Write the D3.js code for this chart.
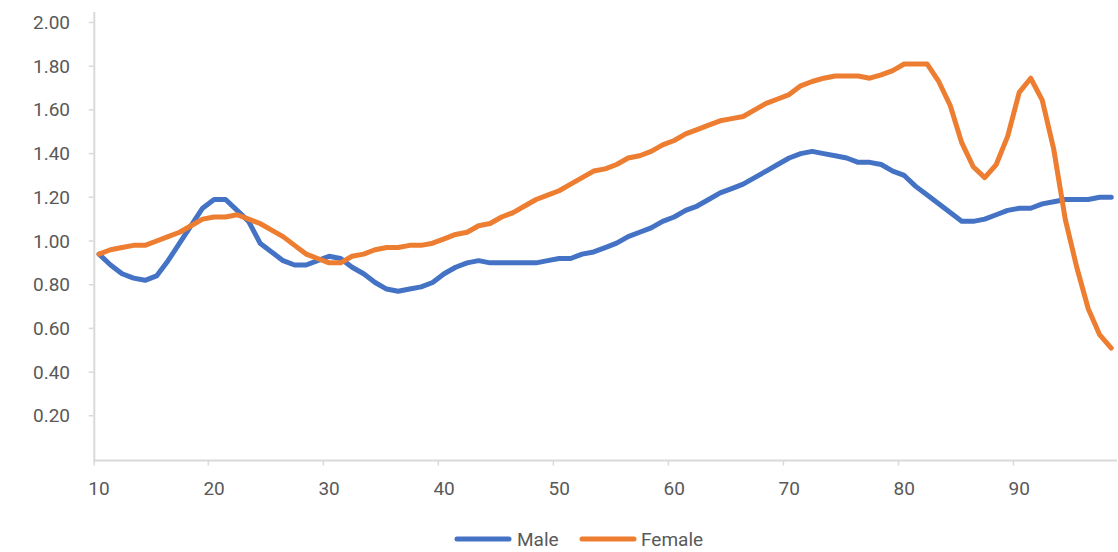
<!DOCTYPE html>
<html>
<head>
<meta charset="utf-8">
<script src="https://cdn.jsdelivr.net/npm/d3@7"></script>
<style>
  html, body { margin: 0; padding: 0; background: #ffffff; }
  svg { display: block; }
  text { font-family: Roboto, "Open Sans", sans-serif; fill: #595959; }
</style>
</head>
<body>
<svg id="chart" width="1118" height="552"></svg>
<script>
// Ages on the category axis
const ages = [10,11,12,13,14,15,16,17,18,19,20,21,22,23,24,25,26,27,28,29,
  30,31,32,33,34,35,36,37,38,39,40,41,42,43,44,45,46,47,48,49,
  50,51,52,53,54,55,56,57,58,59,60,61,62,63,64,65,66,67,68,69,
  70,71,72,73,74,75,76,77,78,79,80,81,82,83,84,85,86,87,88,89,
  90,91,92,93,94,95,96,97,98];

const male = [0.94,0.89,0.85,0.83,0.82,0.84,0.91,0.99,1.07,1.15,
  1.19,1.19,1.14,1.09,0.99,0.95,0.91,0.89,0.89,0.91,
  0.93,0.92,0.88,0.85,0.81,0.78,0.77,0.78,0.79,0.81,
  0.85,0.88,0.90,0.91,0.90,0.90,0.90,0.90,0.90,0.91,
  0.92,0.92,0.94,0.95,0.97,0.99,1.02,1.04,1.06,1.09,
  1.11,1.14,1.16,1.19,1.22,1.24,1.26,1.29,1.32,1.35,
  1.38,1.40,1.41,1.40,1.39,1.38,1.36,1.36,1.35,1.32,
  1.30,1.25,1.21,1.17,1.13,1.09,1.09,1.10,1.12,1.14,
  1.15,1.15,1.17,1.18,1.19,1.19,1.19,1.20,1.20];

const female = [0.94,0.96,0.97,0.98,0.98,1.00,1.02,1.04,1.07,1.10,
  1.11,1.11,1.12,1.10,1.08,1.05,1.02,0.98,0.94,0.92,
  0.90,0.90,0.93,0.94,0.96,0.97,0.97,0.98,0.98,0.99,
  1.01,1.03,1.04,1.07,1.08,1.11,1.13,1.16,1.19,1.21,
  1.23,1.26,1.29,1.32,1.33,1.35,1.38,1.39,1.41,1.44,
  1.46,1.49,1.51,1.53,1.55,1.56,1.57,1.60,1.63,1.65,
  1.67,1.71,1.73,1.745,1.755,1.755,1.755,1.745,1.76,1.78,
  1.81,1.81,1.81,1.73,1.62,1.45,1.34,1.29,1.35,1.48,
  1.68,1.745,1.645,1.42,1.10,0.88,0.69,0.57,0.51];

const xTickAges = [10,20,30,40,50,60,70,80,90];
const yTicks = [0.2,0.4,0.6,0.8,1.0,1.2,1.4,1.6,1.8,2.0];

const seriesNames = ["Male", "Female"];
const seriesColors = ["#4472C4", "#ED7D31"];

const svg = d3.select("#chart");

const plot = { left: 93.3, right: 1117, top: 22.5, bottom: 459.5 };

const x = d3.scaleBand().domain(ages).range([plot.left, plot.right]).paddingInner(0).paddingOuter(0);
const y = d3.scaleLinear().domain([0, 2]).range([plot.bottom, plot.top]);
const cx = a => x(a) + x.bandwidth() / 2;

const axisColor = "#d9d9d9";

// Vertical axis line and ticks
svg.append("line")
  .attr("x1", plot.left + 1).attr("x2", plot.left + 1)
  .attr("y1", 12).attr("y2", plot.bottom + 1)
  .attr("stroke", axisColor).attr("stroke-width", 2);

svg.append("g").selectAll("line").data(yTicks).join("line")
  .attr("x1", plot.left - 4.5).attr("x2", plot.left)
  .attr("y1", d => y(d)).attr("y2", d => y(d))
  .attr("stroke", axisColor).attr("stroke-width", 1.5);

svg.append("g").selectAll("text").data(yTicks).join("text")
  .attr("x", 70).attr("y", d => y(d))
  .attr("text-anchor", "end").attr("dominant-baseline", "central")
  .style("font-size", "19px")
  .text(d => d3.format(".2f")(d));

// Horizontal axis line, ticks at category boundaries, labels at centers
svg.append("line")
  .attr("x1", plot.left).attr("x2", plot.right)
  .attr("y1", plot.bottom + 1).attr("y2", plot.bottom + 1)
  .attr("stroke", axisColor).attr("stroke-width", 2);

svg.append("g").selectAll("line").data(xTickAges).join("line")
  .attr("x1", d => x(d) + (d === 10 ? 1 : 0)).attr("x2", d => x(d) + (d === 10 ? 1 : 0))
  .attr("y1", plot.bottom + 1).attr("y2", plot.bottom + 6)
  .attr("stroke", axisColor).attr("stroke-width", 1.5);

svg.append("g").selectAll("text").data(xTickAges).join("text")
  .attr("x", d => cx(d)).attr("y", 495)
  .attr("text-anchor", "middle")
  .style("font-size", "19px")
  .text(d => d);

// Series lines
const line = d3.line().x((d, i) => cx(ages[i])).y(d => y(d));
[male, female].forEach((vals, k) => {
  svg.append("path")
    .datum(vals)
    .attr("d", line)
    .attr("fill", "none")
    .attr("stroke", seriesColors[k])
    .attr("stroke-width", 5)
    .attr("stroke-linejoin", "round")
    .attr("stroke-linecap", "round");
});

// Legend
const legendItems = [
  { name: seriesNames[0], color: seriesColors[0], x0: 457, text: 517 },
  { name: seriesNames[1], color: seriesColors[1], x0: 582, text: 641 }
];
const lg = svg.append("g");
legendItems.forEach(it => {
  lg.append("line")
    .attr("x1", it.x0).attr("x2", it.x0 + 52)
    .attr("y1", 539).attr("y2", 539)
    .attr("stroke", it.color).attr("stroke-width", 5)
    .attr("stroke-linecap", "round");
  lg.append("text")
    .attr("x", it.text).attr("y", 539)
    .attr("dominant-baseline", "central")
    .style("font-size", "19px")
    .text(it.name);
});
</script>
</body>
</html>
